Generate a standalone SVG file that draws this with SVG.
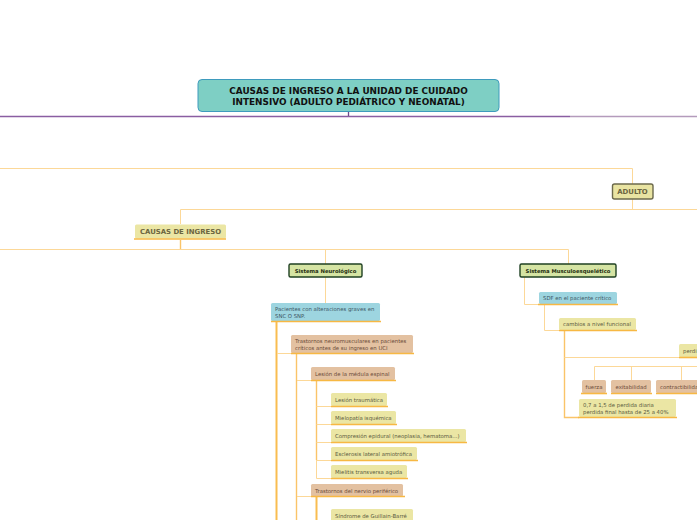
<svg xmlns="http://www.w3.org/2000/svg" width="697" height="520" viewBox="0 0 697 520">
<style>
text{font-family:"DejaVu Sans","Verdana",sans-serif}
.t{font-size:8.9px;font-weight:bold;fill:#111}
.m{font-size:6.9px;font-weight:bold;fill:#6b6540}
.s{font-size:5.3px;font-weight:bold;fill:#1e2e10}
.x{font-size:5.35px;fill:#5a5a40}
.xb{font-size:5.35px;fill:#3e5565}
.xt{font-size:5.35px;fill:#6a4a38}
.ye{fill:#ebe6a4}
.bl{fill:#9dd5e0}
.tn{fill:#e3c1a1}
.gr{fill:#d5e4a3;stroke:#1f4022;stroke-width:1.4}
.ul{stroke:#f7b843;stroke-width:1.6}
.c{fill:none;stroke:#fcd898;stroke-width:1}
.ct{fill:none;stroke:#f9bd50;stroke-width:2}
.cm{fill:none;stroke:#fac469;stroke-width:1.4}
</style>
<rect width="697" height="520" fill="#fff"/>
<g id="connectors">
<path d="M0 116.5H570" stroke="#8a5ea2" stroke-width="1.3" fill="none"/>
<path d="M570 116.5H697" stroke="#b49bbc" stroke-width="1.3" fill="none"/>
<path d="M348.5 111V116" stroke="#6f4a8a" stroke-width="1.3"/>
<path class="c" d="M0 168.5H632.5V184"/>
<path class="c" d="M632.5 199V209.5"/>
<path class="c" d="M180.5 209.5H697"/>
<path class="c" d="M180.5 209.5V224"/>
<path class="cm" d="M180.5 240V249.5"/>
<path class="c" d="M0 249.5H568.5V264"/>
<path class="c" d="M325.5 249.5V264"/>
<path class="c" d="M325.5 277V303"/>
<path class="ct" d="M276.5 322V520"/>
<path class="c" d="M277 353.5H291"/>
<path class="cm" d="M296.5 354V520"/>
<path class="c" d="M297 380.5H311"/>
<path class="c" d="M297 496.5H311"/>
<path class="cm" d="M316.5 381V460"/>
<path class="c" d="M316.5 460V478.5"/>
<path class="c" d="M316.5 406.5H331M316.5 424.5H331M316.5 442.5H331M316.5 460.5H331M316.5 478.5H331"/>
<path class="ct" d="M316.5 497V520"/>
<path class="c" d="M524.5 277V304.5H539"/>
<path class="c" d="M544.5 305V330.5H559"/>
<path class="cm" d="M564.5 331V417.5H579"/>
<path class="c" d="M564.5 357.5H679"/>
<path class="c" d="M594.5 380V366.5H697M631.5 366.5V380M681.5 366.5V380"/>
</g>
<g id="title">
<rect x="198" y="79.5" width="301" height="32" rx="4" fill="#7ecfc4" stroke="#3e9bbd" stroke-width="1"/>
<text class="t" x="348.5" y="94.3" text-anchor="middle">CAUSAS DE INGRESO A LA UNIDAD DE CUIDADO</text>
<text class="t" x="348.5" y="105.3" text-anchor="middle">INTENSIVO (ADULTO PEDIÁTRICO Y NEONATAL)</text>
</g>
<g id="adulto">
<rect x="612.5" y="184" width="40.5" height="15" rx="2" fill="#e9e4a2" stroke="#6c6a4c" stroke-width="1.4"/>
<text class="m" x="632.5" y="194.2" text-anchor="middle">ADULTO</text>
</g>
<g id="causas">
<rect class="ye" x="135" y="224.5" width="91" height="14" rx="1.5"/>
<path class="ul" d="M134 239H226"/>
<text class="m" x="180.5" y="234.2" text-anchor="middle">CAUSAS DE INGRESO</text>
</g>
<g id="neuro">
<rect class="gr" x="289" y="264" width="73" height="13" rx="1.5"/>
<text class="s" x="325.5" y="272.7" text-anchor="middle">Sistema Neurológico</text>
</g>
<g id="musculo">
<rect class="gr" x="520" y="264" width="96" height="13" rx="1.5"/>
<text class="s" x="568" y="272.7" text-anchor="middle">Sistema Musculoesquelético</text>
</g>
<g id="pacientes">
<rect class="bl" x="271" y="303" width="109" height="18" rx="1.5"/>
<path class="ul" d="M271 321.5H381"/>
<text class="xb" x="275" y="311">Pacientes con alteraciones graves en</text>
<text class="xb" x="275" y="318">SNC O SNP.</text>
</g>
<g id="trastornos-nm">
<rect class="tn" x="291" y="335" width="122" height="18" rx="1.5"/>
<path class="ul" d="M291 353.5H414"/>
<text class="xt" x="295" y="343">Trastornos neuromusculares en pacientes</text>
<text class="xt" x="295" y="350"> críticos antes de su ingreso en UCI</text>
</g>
<g id="medula">
<rect class="tn" x="311" y="367" width="84" height="13" rx="1.5"/>
<path class="ul" d="M311 380.5H396"/>
<text class="xt" x="315" y="375.8">Lesión de la médula espinal</text>
</g>
<g id="lesion-traumatica">
<rect class="ye" x="331" y="393" width="56" height="13" rx="1.5"/>
<path class="ul" d="M331 406.5H388"/>
<text class="x" x="335" y="401.8">Lesión traumática</text>
</g>
<g id="mielopatia">
<rect class="ye" x="331" y="411" width="65" height="13" rx="1.5"/>
<path class="ul" d="M331 424.5H397"/>
<text class="x" x="335" y="419.8">Mielopatía isquémica</text>
</g>
<g id="compresion">
<rect class="ye" x="331" y="429" width="135" height="13" rx="1.5"/>
<path class="ul" d="M331 442.5H467"/>
<text class="x" x="335" y="437.8">Compresión epidural (neoplasia, hematoma...)</text>
</g>
<g id="esclerosis">
<rect class="ye" x="331" y="447" width="86" height="13" rx="1.5"/>
<path class="ul" d="M331 460.5H418"/>
<text class="x" x="335" y="455.8">Esclerosis lateral amiotrófica</text>
</g>
<g id="mielitis">
<rect class="ye" x="331" y="465" width="76" height="13" rx="1.5"/>
<path class="ul" d="M331 478.5H408"/>
<text class="x" x="335" y="473.8">Mielitis transversa aguda</text>
</g>
<g id="nervio-periferico">
<rect class="tn" x="311" y="484" width="92" height="12.5" rx="1.5"/>
<path class="ul" d="M311 496.5H405"/>
<text class="xt" x="315" y="492.5">Trastornos del nervio periférico</text>
</g>
<g id="guillain">
<rect class="ye" x="331" y="509" width="82" height="13" rx="1.5"/>
<text class="x" x="335" y="517.8">Síndrome de Guillain-Barré</text>
</g>
<g id="sdf">
<rect class="bl" x="539" y="292" width="78" height="12" rx="1.5"/>
<path class="ul" d="M538 304.5H618"/>
<text class="xb" x="543" y="300">SDF en el paciente crítico</text>
</g>
<g id="cambios">
<rect class="ye" x="559" y="318" width="77" height="12" rx="1.5"/>
<path class="ul" d="M559 330.5H637"/>
<text class="x" x="563" y="326">cambios a nivel funcional</text>
</g>
<g id="perdida">
<rect class="ye" x="679" y="344" width="20" height="13" rx="1.5"/>
<path class="ul" d="M679 357.5H697"/>
<text class="x" x="683" y="352.8">perdi</text>
</g>
<g id="fuerza">
<rect class="tn" x="582" y="380" width="24" height="13" rx="1.5"/>
<path class="ul" d="M581 393.5H607"/>
<text class="xt" x="594" y="388.8" text-anchor="middle">fuerza</text>
</g>
<g id="exitabilidad">
<rect class="tn" x="611" y="380" width="40" height="13" rx="1.5"/>
<path class="ul" d="M611 393.5H652"/>
<text class="xt" x="631" y="388.8" text-anchor="middle">exitabilidad</text>
</g>
<g id="contractibilidad">
<rect class="tn" x="656" y="380" width="45" height="13" rx="1.5"/>
<path class="ul" d="M656 393.5H697"/>
<text class="xt" x="660" y="388.8">contractibilidad</text>
</g>
<g id="perdida-diaria">
<rect class="ye" x="579" y="399" width="97" height="18" rx="1.5"/>
<path class="ul" d="M578 417.5H677"/>
<text class="x" x="583" y="406.5">0,7 a 1,5 de perdida diaria</text>
<text class="x" x="583" y="413.5">perdida final hasta de 25 a 40%</text>
</g>
</svg>
